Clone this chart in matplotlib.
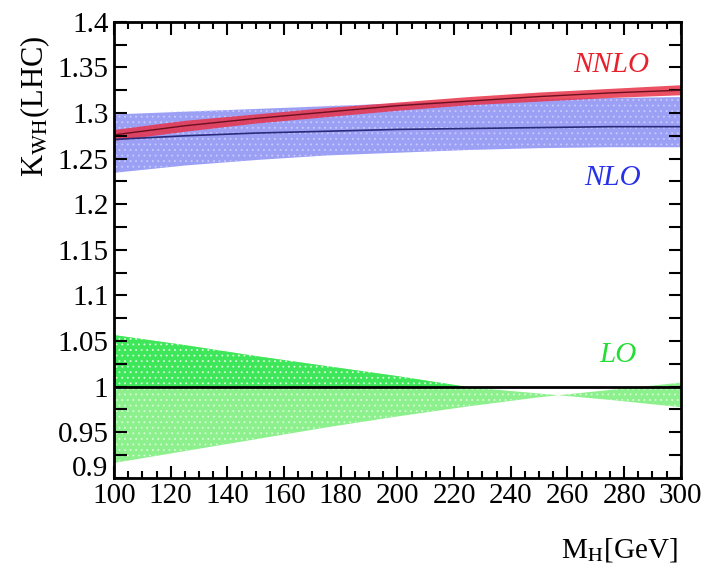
import matplotlib.pyplot as plt
import numpy as np
from matplotlib.ticker import MultipleLocator, FuncFormatter

plt.rcParams['font.family'] = ['Liberation Serif', 'DejaVu Serif']
plt.rcParams['mathtext.fontset'] = 'stix'
plt.rcParams['hatch.linewidth'] = 0.6

# Higgs mass points (GeV)
mh = [100, 125, 150, 175, 200, 225, 250, 275, 300]

# NLO band: central, upper, lower
nlo_c = [1.271, 1.275, 1.278, 1.280, 1.282, 1.283, 1.284, 1.285, 1.285]
nlo_up = [1.299, 1.302, 1.305, 1.308, 1.311, 1.314, 1.316, 1.317, 1.318]
nlo_dn = [1.235, 1.243, 1.249, 1.254, 1.257, 1.260, 1.262, 1.263, 1.263]

# NNLO band: central, upper, lower
nnlo_c = [1.276, 1.286, 1.294, 1.301, 1.308, 1.313, 1.318, 1.322, 1.325]
nnlo_up = [1.282, 1.292, 1.299, 1.306, 1.312, 1.318, 1.323, 1.327, 1.331]
nnlo_dn = [1.270, 1.280, 1.289, 1.296, 1.303, 1.309, 1.313, 1.317, 1.320]

# LO band edges (they cross near 257 GeV)
lo_a = [1.057, 1.046, 1.034, 1.023, 1.012, 1.000, 0.993, 0.986, 0.978]
lo_b = [0.917, 0.930, 0.943, 0.956, 0.968, 0.979, 0.989, 0.997, 1.005]

fig = plt.figure(figsize=(7.04, 5.73), dpi=100)
ax = fig.add_axes([0.162, 0.166, 0.805, 0.796])

m = np.array(mh)
a = np.array(lo_a)
b = np.array(lo_b)
ax.fill_between(m, b, a, color='#8cf08c', lw=0)
ax.fill_between(m, 1.0, a, where=a >= 1.0, interpolate=True, color='#3ee65a', lw=0)
ax.fill_between(m, b, a, facecolor='none', edgecolor='#d8fbd8', hatch='...', lw=0)
ax.axhline(1.0, color='black', lw=2)

ax.fill_between(mh, nlo_dn, nlo_up, color='#7b80f2', alpha=0.75, lw=0)
ax.fill_between(mh, nlo_dn, nlo_up, facecolor='none', edgecolor='#c8caff', hatch='...', lw=0)
ax.plot(mh, nlo_c, color='#2a2a7a', lw=1.2)

ax.fill_between(mh, nnlo_dn, nnlo_up, color='#e83248', alpha=0.85, lw=0)
ax.plot(mh, nnlo_c, color='#6a1020', lw=1.0)

ax.text(289, 1.353, 'NNLO', color='#e8202c', style='italic', fontsize=21, ha='right', va='center')
ax.text(286, 1.229, 'NLO', color='#2830e8', style='italic', fontsize=21, ha='right', va='center')
ax.text(284.5, 1.035, 'LO', color='#22dd33', style='italic', fontsize=21, ha='right', va='center')

ax.set_xlim(100, 300)
ax.set_ylim(0.9, 1.4)
ax.xaxis.set_major_locator(MultipleLocator(20))
ax.xaxis.set_minor_locator(MultipleLocator(5))
ax.yaxis.set_major_locator(MultipleLocator(0.05))
ax.yaxis.set_minor_locator(MultipleLocator(0.025))
# bottom label 0.9 is drawn separately, slightly raised
ax.yaxis.set_major_formatter(FuncFormatter(lambda v, p: '' if abs(v - 0.9) < 1e-6 else '%g' % v))
ax.annotate('0.9', xy=(0, 0.9), xycoords=('axes fraction', 'data'), xytext=(-4, -3),
            textcoords='offset points', ha='right', va='bottom', fontsize=21)
ax.tick_params(which='both', direction='in', top=True, right=True, width=1.5)
ax.tick_params(which='major', length=9, labelsize=21, pad=4)
ax.tick_params(which='minor', length=5)
ax.tick_params(axis='y', which='minor', length=9)
for s in ax.spines.values():
    s.set_linewidth(2)

fig.text(0.05, 0.815, r'K$_{\mathrm{WH}}$(LHC)', rotation=90, fontsize=22, ha='center', va='center')
fig.text(0.88, 0.04, r'M$_{\mathrm{H}}$[GeV]', fontsize=21, ha='center', va='center')

fig.savefig('out.png', dpi=100)
